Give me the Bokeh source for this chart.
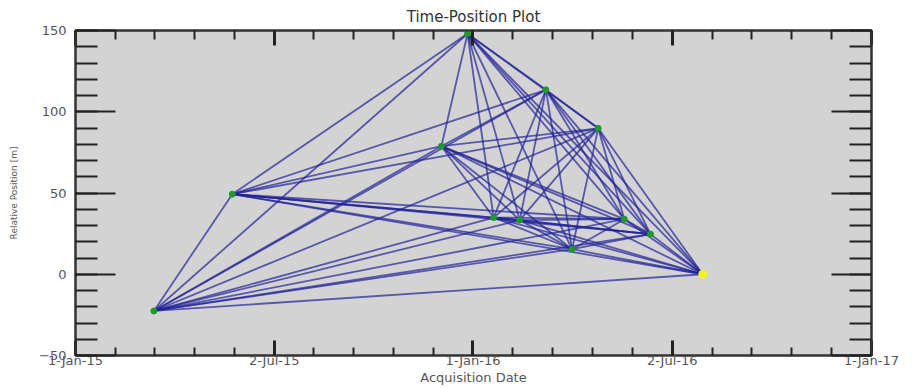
import itertools
import numpy as np
import pandas as pd
from bokeh.plotting import figure
from bokeh.models import (Range1d, FixedTicker, SingleIntervalTicker, DatetimeAxis,
                          LinearAxis, CustomJSTickFormatter, ColumnDataSource)
from bokeh.embed import file_html
from bokeh.resources import INLINE

# ---- data ----
acq_dates = ["2015-03-14", "2015-05-25", "2015-12-03", "2015-12-27", "2016-01-20",
             "2016-02-13", "2016-03-08", "2016-04-01", "2016-04-25", "2016-05-19",
             "2016-06-12", "2016-07-30"]
rel_pos = [-22.6, 49.3, 78.8, 148.0, 34.9, 33.3, 113.5, 15.4, 89.8, 33.9, 24.7, 0.0]
ref_date = "2016-07-30"
ref_pos = 0.0

x_tick_dates = ["2015-01-01", "2015-07-02 12:00", "2016-01-01", "2016-07-02", "2017-01-01"]
x_start, x_end = "2015-01-01", "2017-01-01"
y_start, y_end = -50, 150

# ---- derived ----
dates = pd.to_datetime(acq_dates)
pairs = list(itertools.combinations(range(len(dates)), 2))
seg = ColumnDataSource(dict(
    x0=[dates[i] for i, j in pairs], y0=[rel_pos[i] for i, j in pairs],
    x1=[dates[j] for i, j in pairs], y1=[rel_pos[j] for i, j in pairs]))
pts = ColumnDataSource(dict(x=dates, y=rel_pos))
ref = ColumnDataSource(dict(x=pd.to_datetime([ref_date]), y=[ref_pos]))

def ms(s):
    return pd.Timestamp(s).value / 1e6

major = [ms(d) for d in x_tick_dates]
minor = []
for a, b in zip(major[:-1], major[1:]):
    minor += list(np.linspace(a, b, 6)[1:-1])

p = figure(width=904, height=388, x_axis_type="datetime",
           x_range=Range1d(pd.Timestamp(x_start), pd.Timestamp(x_end)),
           y_range=Range1d(y_start, y_end),
           output_backend="svg", toolbar_location=None,
           min_border_left=75, min_border_right=33, min_border_top=30, min_border_bottom=33,
           title="Time-Position Plot")
p.title.align = "center"
p.title.text_font = "DejaVu Sans"
p.title.text_font_size = "15px"
p.title.text_font_style = "normal"
p.title.text_color = "#333333"
p.title.standoff = 9

p.background_fill_color = "#d3d3d3"
p.border_fill_color = "white"
p.xgrid.visible = False
p.ygrid.visible = False
p.outline_line_color = "#333333"
p.outline_line_width = 2

xticker = FixedTicker(ticks=major, minor_ticks=minor)
yticker = SingleIntervalTicker(interval=50, num_minor_ticks=5)
date_fmt = CustomJSTickFormatter(code="""
const m=['Jan','Feb','Mar','Apr','May','Jun','Jul','Aug','Sep','Oct','Nov','Dec'];
const d=new Date(tick);
return d.getUTCDate()+'-'+m[d.getUTCMonth()]+'-'+String(d.getUTCFullYear()).slice(2);
""")
blank = CustomJSTickFormatter(code="return '';")

def style(ax, tin, mtin):
    ax.axis_line_color = "#333333"
    ax.axis_line_width = 2
    ax.major_tick_in = tin
    ax.major_tick_out = 0
    ax.minor_tick_in = mtin
    ax.minor_tick_out = 0
    ax.major_tick_line_color = "#222222"
    ax.minor_tick_line_color = "#222222"
    ax.major_tick_line_width = 3
    ax.minor_tick_line_width = 2
    ax.major_label_text_font = "DejaVu Sans"
    ax.major_label_text_font_size = "13px"
    ax.major_label_text_color = "#555555"
    ax.axis_label_text_font = "DejaVu Sans"
    ax.axis_label_text_font_style = "normal"
    ax.axis_label_text_color = "#555555"

xa = p.xaxis[0]
xa.ticker = xticker
xa.formatter = date_fmt
xa.axis_label = "Acquisition Date"
xa.axis_label_text_font_size = "13px"
xa.major_label_standoff = -3
xa.axis_label_standoff = -1
style(xa, 15, 8)

ya = p.yaxis[0]
ya.ticker = yticker
ya.axis_label = "Relative Position [m]"
ya.axis_label_text_font_size = "9px"
ya.major_label_standoff = 9
ya.axis_label_standoff = 17
style(ya, 40, 22)
ya.major_tick_line_width = 2
ya.minor_tick_line_width = 2

top = DatetimeAxis(ticker=xticker, formatter=blank, major_label_standoff=0)
style(top, 15, 9)
p.add_layout(top, "above")
right = LinearAxis(ticker=yticker, formatter=blank, major_label_standoff=0)
style(right, 40, 22)
right.major_tick_line_width = 2
right.minor_tick_line_width = 2
p.add_layout(right, "right")

p.segment("x0", "y0", "x1", "y1", source=seg, line_color="#22229a",
          line_alpha=0.7, line_width=1.8)
p.scatter("x", "y", source=pts, marker="circle", size=6, fill_color="#1f9a2a",
          line_color="#1f9a2a")
p.scatter("x", "y", source=ref, marker="circle", size=8, fill_color="#f4f41a",
          line_color="#f4f41a")

open("out.html", "w").write(file_html(p, INLINE))
